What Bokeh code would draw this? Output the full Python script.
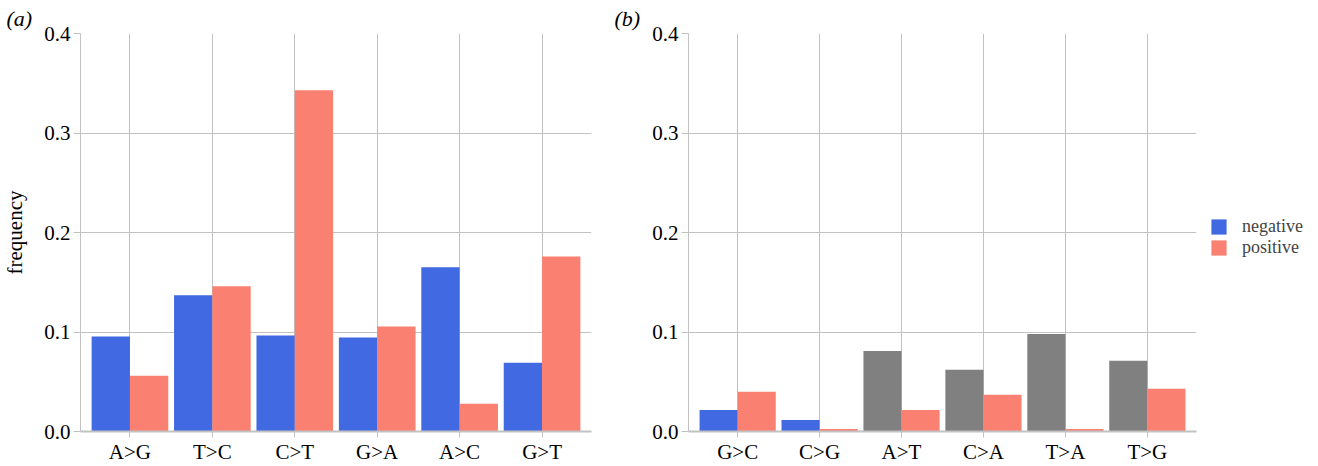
from bokeh.plotting import figure
from bokeh.models import (ColumnDataSource, FactorRange, FixedTicker, PrintfTickFormatter,
                          Legend, LegendItem)
from bokeh.transform import dodge
from bokeh.layouts import row
from bokeh.embed import file_html
from bokeh.resources import INLINE

# ---- data ----
cats_a = ["A>G", "T>C", "C>T", "G>A", "A>C", "G>T"]
neg_a = [0.0955, 0.137, 0.0965, 0.0945, 0.165, 0.069]
pos_a = [0.056, 0.146, 0.343, 0.1055, 0.028, 0.176]

cats_b = ["G>C", "C>G", "A>T", "C>A", "T>A", "T>G"]
neg_b = [0.0215, 0.0115, 0.081, 0.062, 0.098, 0.071]
pos_b = [0.040, 0.0025, 0.0215, 0.037, 0.0025, 0.043]
neg_b_significant = [True, True, False, False, False, False]

y_ticks = [0.0, 0.1, 0.2, 0.3, 0.4]
series_labels = ["negative", "positive"]

BLUE = "#4169E1"
SALMON = "#FA8072"
GRAY = "#808080"
FONT = "Liberation Serif"
GRID = "#c2c2c2"
FS = "21px"
H = 466
TOP = 33
BOTTOM = 35


def make_panel(cats, neg, pos, negcolors, width, left, right, ylabel, tag):
    p = figure(x_range=FactorRange(factors=cats, range_padding=0.1, range_padding_units="absolute"),
               y_range=(0, 0.4), width=width, height=H,
               output_backend="svg", toolbar_location=None,
               min_border_left=left, min_border_right=right,
               min_border_top=TOP, min_border_bottom=BOTTOM)
    src = ColumnDataSource(dict(cat=cats, neg=neg, pos=pos, nc=negcolors))
    bw = 0.465
    p.vbar(x=dodge("cat", -bw / 2, range=p.x_range), top="neg", width=bw,
           source=src, fill_color="nc", line_color=None)
    p.vbar(x=dodge("cat", bw / 2, range=p.x_range), top="pos", width=bw,
           source=src, fill_color=SALMON, line_color=None)

    p.outline_line_color = None
    p.xgrid.grid_line_color = GRID
    p.ygrid.grid_line_color = GRID
    p.yaxis.ticker = FixedTicker(ticks=y_ticks)
    p.yaxis.formatter = PrintfTickFormatter(format="%.1f")
    p.yaxis.minor_tick_line_color = None

    for ax in (p.xaxis[0], p.yaxis[0]):
        ax.axis_line_color = GRID
        ax.major_tick_line_color = GRID
        ax.major_tick_in = 0
        ax.major_label_text_font = FONT
        ax.major_label_text_font_size = FS
        ax.major_label_text_color = "black"
        ax.axis_label_text_font = FONT
        ax.axis_label_text_font_size = FS
        ax.axis_label_text_font_style = "normal"
        ax.axis_label_text_color = "black"
    p.xaxis.axis_line_width = 2
    p.xaxis.major_tick_out = 6
    p.xaxis.major_label_standoff = 2
    p.yaxis.major_tick_out = 7
    p.yaxis.major_label_standoff = 3
    if ylabel:
        p.yaxis.axis_label = ylabel
        p.yaxis.axis_label_standoff = 14

    p.title.text = tag
    p.title.align = "left"
    p.title.offset = -74
    p.title.standoff = 5
    p.title.text_font = FONT
    p.title.text_font_size = "22px"
    p.title.text_font_style = "italic"
    p.title.text_color = "black"
    return p


pa = make_panel(cats_a, neg_a, pos_a, [BLUE] * 6, 610, 78, 19, "frequency", "(a)")
colors_b = [BLUE if s else GRAY for s in neg_b_significant]
pb = make_panel(cats_b, neg_b, pos_b, colors_b, 596, 78, 10, None, "(b)")

# legend-only figure (proxy renderers are hidden; only their legend swatches show)
pl = figure(width=112, height=H, output_backend="svg", toolbar_location=None,
            x_range=FactorRange(factors=cats_b), y_range=(0, 0.4),
            min_border_left=0, min_border_right=0,
            min_border_top=TOP, min_border_bottom=BOTTOM)
pl.axis.visible = False
pl.grid.visible = False
pl.outline_line_color = None
src_l = ColumnDataSource(dict(cat=cats_b, neg=neg_b, pos=pos_b))
r_neg = pl.vbar(x="cat", top="neg", width=0.5, source=src_l, fill_color=BLUE,
                line_color=None, visible=False)
r_pos = pl.vbar(x="cat", top="pos", width=0.5, source=src_l, fill_color=SALMON,
                line_color=None, visible=False)
legend = Legend(items=[LegendItem(label=series_labels[0], renderers=[r_neg], index=0),
                       LegendItem(label=series_labels[1], renderers=[r_pos], index=0)],
                location=(3, 173), padding=0, margin=0, spacing=0,
                glyph_width=19, glyph_height=19, label_height=19, label_standoff=14,
                label_text_font=FONT, label_text_font_size="18px",
                border_line_color=None, background_fill_alpha=0)
pl.add_layout(legend, "center")

layout = row(pa, pb, pl)
open("out.html", "w").write(file_html(layout, INLINE))
